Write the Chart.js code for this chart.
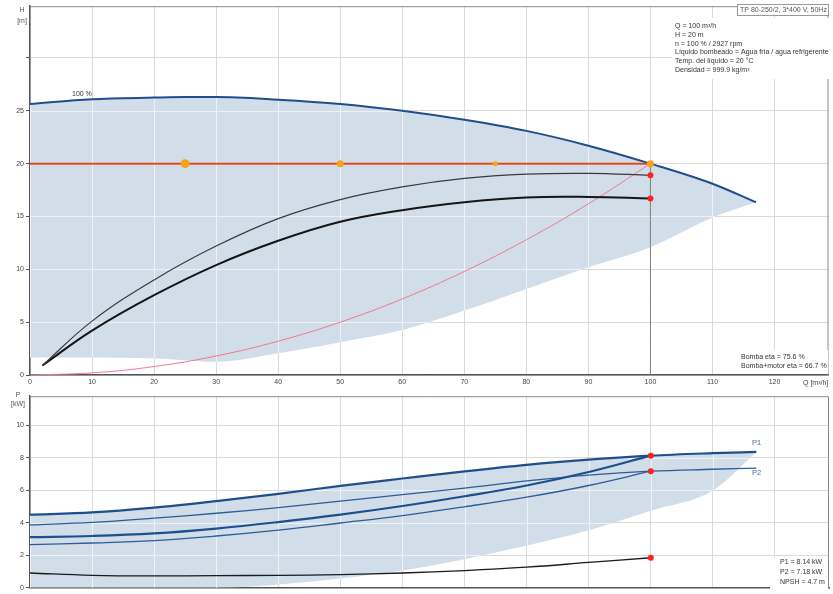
<!DOCTYPE html>
<html><head><meta charset="utf-8">
<script src="https://cdn.jsdelivr.net/npm/chart.js@4/dist/chart.umd.min.js"></script>
<style>
html,body{margin:0;padding:0;background:#fff;}
#wrap{position:relative;width:833px;height:594px;overflow:hidden;background:#fff;}
#top{position:absolute;left:0;top:0;}
#bot{position:absolute;left:0;top:390px;}
</style></head><body>
<div id="wrap"><canvas id="top" width="833" height="392"></canvas><canvas id="bot" width="833" height="204"></canvas></div>
<script>
// ---------- DATA ----------
// top chart: head H [m] vs flow Q [m3/h]
const qEnv  = [0, 10, 20, 25, 30, 40, 50, 60, 70, 80, 90, 100, 110, 117];
const hMax  = [25.65, 26.1, 26.25, 26.3, 26.3, 26.05, 25.65, 25.0, 24.15, 23.1, 21.7, 20.0, 18.1, 16.35];
const hMin  = [1.65, 1.65, 1.55, 1.4, 1.25, 2.05, 3.1, 4.25, 6.1, 8.15, 10.2, 12.1, 14.9, 16.35];
const qPump = [2, 10, 20, 30, 40, 50, 60, 70, 80, 90, 100];
const hThin = [0.9, 5.1, 9.0, 12.2, 14.8, 16.6, 17.8, 18.6, 19.0, 19.08, 18.9];
const hThick= [0.9, 4.2, 7.55, 10.4, 12.7, 14.5, 15.6, 16.35, 16.8, 16.85, 16.7];
const qSys  = [0, 10, 20, 30, 40, 50, 60, 70, 80, 90, 100];
const hSys  = [0, 0.2, 0.8, 1.8, 3.2, 5.0, 7.2, 9.8, 12.8, 16.2, 20.0];
const qSet  = [0, 100];
const hSet  = [20, 20];
const qMarks = [25, 50, 75, 100];
const hMarks = [20, 20, 20, 20];
const qDuty = [100, 100];
const hDuty = [18.9, 16.7];
const xTicks = [0, 10, 20, 30, 40, 50, 60, 70, 80, 90, 100, 110, 120];
const hTicks = [0, 5, 10, 15, 20, 25, 30];
// bottom chart: power P [kW] vs flow Q [m3/h]
const qPow  = [0, 10, 20, 30, 40, 50, 60, 70, 80, 90, 100, 110, 117];
const p1    = [4.5, 4.64, 4.94, 5.34, 5.78, 6.28, 6.73, 7.17, 7.57, 7.89, 8.14, 8.29, 8.37];
const p2    = [3.87, 4.03, 4.29, 4.59, 4.94, 5.34, 5.74, 6.14, 6.58, 6.94, 7.18, 7.3, 7.37];
const pMin  = [0, 0, 0, 0, 0.2, 0.57, 1.06, 1.76, 2.6, 3.55, 4.75, 6.0, 8.37];
const qPart = [0, 10, 20, 30, 40, 50, 60, 70, 80, 90, 100];
const p1b   = [3.12, 3.19, 3.35, 3.65, 4.05, 4.51, 5.04, 5.64, 6.3, 7.13, 8.14];
const p2b   = [2.66, 2.76, 2.91, 3.19, 3.55, 3.99, 4.45, 4.99, 5.58, 6.3, 7.18];
const npsh  = [0.91, 0.77, 0.73, 0.75, 0.77, 0.81, 0.91, 1.06, 1.27, 1.56, 1.85];
const qDutyP = [100, 100, 100];
const pDuty  = [8.14, 7.18, 1.85];
const pTicks = [0, 2, 4, 6, 8, 10];

const infoLines = ['Q = 100 m³/h', 'H = 20 m', 'n = 100 % / 2927 rpm',
  'Líquido bombeado = Agua fría / agua refrigerente', 'Temp. del líquido = 20 °C', 'Densidad = 999.9 kg/m³'];
const etaLines = ['Bomba eta = 75.6 %', 'Bomba+motor eta = 66.7 %'];
const powLines = ['P1 = 8.14 kW', 'P2 = 7.18 kW', 'NPSH = 4.7 m'];

// ---------- helpers ----------
const FONT = '"Liberation Sans", Arial, sans-serif';
Chart.defaults.font.family = FONT;
Chart.defaults.font.size = 7;
Chart.defaults.color = '#444';
function xy(xs, ys) { return xs.map((x, i) => ({ x: x, y: ys[i] })); }
function txt(ctx, s, x, y, size, color, align) {
  ctx.font = size + 'px ' + FONT; ctx.fillStyle = color;
  ctx.textAlign = align || 'left'; ctx.textBaseline = 'middle'; ctx.fillText(s, x, y);
}
const GRID = '#dadada';
const GRID_IN = '#eef2f7';
const SHADE = '#d1dde9';

function curvePath(ctx, up, lo) {
  ctx.beginPath();
  ctx.moveTo(up[0].x, up[0].y);
  for (let i = 1; i < up.length; i++) {
    const a = up[i - 1], b = up[i];
    if (a.cp2x !== undefined && b.cp1x !== undefined) ctx.bezierCurveTo(a.cp2x, a.cp2y, b.cp1x, b.cp1y, b.x, b.y);
    else ctx.lineTo(b.x, b.y);
  }
  const n = lo.length;
  ctx.lineTo(lo[n - 1].x, lo[n - 1].y);
  for (let i = n - 1; i > 0; i--) {
    const a = lo[i], b = lo[i - 1];
    if (a.cp1x !== undefined && b.cp2x !== undefined) ctx.bezierCurveTo(a.cp1x, a.cp1y, b.cp2x, b.cp2y, b.x, b.y);
    else ctx.lineTo(b.x, b.y);
  }
  ctx.closePath();
}
const gridOverFill = {
  id: 'gridOverFill',
  beforeDatasetsDraw(chart, args, opts) {
    const mu = chart.getDatasetMeta(opts.upper), ml = chart.getDatasetMeta(opts.lower);
    const area = chart.chartArea;
    mu.dataset.updateControlPoints(area, 'x');
    ml.dataset.updateControlPoints(area, 'x');
    const ctx = chart.ctx;
    ctx.save();
    curvePath(ctx, mu.data, ml.data);
    ctx.clip();
    ctx.strokeStyle = GRID_IN; ctx.lineWidth = 1;
    const xs = chart.scales.x, ys = chart.scales.y;
    xs.ticks.forEach(t => { const p = Math.round(xs.getPixelForValue(t.value)) + 0.5;
      ctx.beginPath(); ctx.moveTo(p, area.top); ctx.lineTo(p, area.bottom); ctx.stroke(); });
    ys.ticks.forEach(t => { const p = Math.round(ys.getPixelForValue(t.value)) + 0.5;
      ctx.beginPath(); ctx.moveTo(area.left, p); ctx.lineTo(area.right, p); ctx.stroke(); });
    ctx.restore();
  }
};
const frame = {
  id: 'frame',
  afterDraw(chart, args, opts) {
    const a = chart.chartArea, ctx = chart.ctx;
    ctx.save();
    ctx.strokeStyle = '#8a8a8a'; ctx.lineWidth = 1;
    ctx.beginPath();
    ctx.moveTo(a.left, a.top + 0.5); ctx.lineTo(a.right - 0.5, a.top + 0.5); ctx.lineTo(a.right - 0.5, a.bottom);
    ctx.stroke();
    if (opts.draw) opts.draw(ctx, chart);
    ctx.restore();
  }
};
function lineDs(data, color, width, extra) {
  return Object.assign({ data: data, borderColor: color, borderWidth: width, pointRadius: 0,
    fill: false, tension: 0.4 }, extra || {});
}
function envDs(data, color, width, extra) {
  return Object.assign({ data: data, borderColor: color, borderWidth: width, pointRadius: 0,
    fill: false, cubicInterpolationMode: 'monotone' }, extra || {});
}
function scalesFor(yMax, yTicks, xHeight, showX, yLabel) {
  return {
    x: { type: 'linear', min: 0, max: 128.7,
      afterBuildTicks: s => { s.ticks = xTicks.map(v => ({ value: v })); },
      afterFit: s => { s.height = xHeight; },
      grid: { color: GRID, drawTicks: false },
      border: { color: '#555', width: 1.5 },
      ticks: { display: showX, padding: 3, color: '#444', maxRotation: 0, autoSkip: false, font: { size: 7 } } },
    y: { type: 'linear', min: 0, max: yMax,
      afterBuildTicks: s => { s.ticks = yTicks.map(v => ({ value: v })); },
      afterFit: s => { s.width = 30; },
      grid: { color: GRID, tickColor: '#555', tickLength: 4 },
      border: { color: '#555', width: 1.5 },
      ticks: { padding: 2, color: '#444', font: { size: 7 }, callback: yLabel } }
  };
}

// ---------- top chart ----------
new Chart(document.getElementById('top'), {
  type: 'line',
  data: { datasets: [
    lineDs(xy(qMarks, hMarks), '#f5a31a', 0, { showLine: false, pointRadius: [4.5, 3.5, 2.5, 3.5],
      pointBackgroundColor: '#f7a21b', pointBorderWidth: 0 }),
    lineDs(xy(qDuty, hDuty), '#ff2020', 0, { showLine: false, pointRadius: 3,
      pointBackgroundColor: '#ff2020', pointBorderWidth: 0 }),
    lineDs(xy(qSet, hSet), '#e2481e', 2),
    lineDs(xy(qPump, hThin), '#3a3a3a', 1.2),
    lineDs(xy(qPump, hThick), '#151515', 2),
    lineDs(xy(qSys, hSys), '#f0788a', 1),
    lineDs(xy([100, 100], [20, 0]), '#7d7d7d', 1),
    envDs(xy(qEnv, hMax), '#1f4e8a', 2, { fill: '+1', backgroundColor: SHADE }),
    envDs(xy(qEnv, hMin), 'rgba(0,0,0,0)', 0)
  ] },
  options: {
    responsive: false, animation: false, events: [],
    layout: { padding: { top: 5, right: 4, left: 0, bottom: 0 } },
    scales: scalesFor(34.9, hTicks, 17, true, v => (v === 30 ? '' : v)),
    plugins: { legend: { display: false }, tooltip: { enabled: false },
      filler: { drawTime: 'beforeDatasetsDraw' },
      gridOverFill: { upper: 7, lower: 8 },
      frame: { draw: (ctx) => {
        txt(ctx, 'H', 22, 10, 7, '#555', 'center');
        txt(ctx, '[m]', 22, 21, 7, '#555', 'center');
        txt(ctx, '100 %', 72, 94, 7, '#333');
        ctx.fillStyle = '#fff'; ctx.fillRect(672, 18, 157, 61);
        infoLines.forEach((s, i) => txt(ctx, s, 675, 26 + i * 8.8, 7, '#333'));
        ctx.fillStyle = '#fff'; ctx.fillRect(737, 4, 92, 12);
        ctx.strokeStyle = '#999'; ctx.lineWidth = 1; ctx.strokeRect(737.5, 4.5, 91, 11);
        txt(ctx, 'TP 80-250/2, 3*400 V, 50Hz', 740, 10.5, 7, '#555');
        ctx.fillStyle = '#fff'; ctx.fillRect(735, 350, 93, 24);
        etaLines.forEach((s, i) => txt(ctx, s, 741, 357 + i * 9.5, 7, '#333'));
        txt(ctx, 'Q [m³/h]', 803, 383, 7, '#444');
      } }
    }
  },
  plugins: [gridOverFill, frame]
});

// ---------- bottom chart ----------
new Chart(document.getElementById('bot'), {
  type: 'line',
  data: { datasets: [
    lineDs(xy(qDutyP, pDuty), '#ff2020', 0, { showLine: false, pointRadius: 3,
      pointBackgroundColor: '#ff2020', pointBorderWidth: 0 }),
    lineDs(xy(qPart, npsh), '#1a1a1a', 1.3),
    lineDs(xy(qPart, p1b), '#1c4f8c', 2.2),
    lineDs(xy(qPart, p2b), '#2d5d95', 1.3),
    lineDs(xy(qPow, p2), '#2d5d95', 1.3),
    envDs(xy(qPow, p1), '#1c4f8c', 2.2, { fill: '+1', backgroundColor: SHADE }),
    envDs(xy(qPow, pMin), 'rgba(0,0,0,0)', 0)
  ] },
  options: {
    responsive: false, animation: false, events: [],
    layout: { padding: { top: 2, right: 4, left: 0, bottom: 0 } },
    scales: scalesFor(11.8, pTicks, 5, false, v => v),
    plugins: { legend: { display: false }, tooltip: { enabled: false },
      filler: { drawTime: 'beforeDatasetsDraw' },
      gridOverFill: { upper: 5, lower: 6 },
      frame: { draw: (ctx) => {
        txt(ctx, 'P', 18, 5, 7, '#555', 'center');
        txt(ctx, '[kW]', 18, 14, 7, '#555', 'center');
        txt(ctx, 'P1', 752, 53, 7.5, '#4d6b8f');
        txt(ctx, 'P2', 752, 83, 7.5, '#4d6b8f');
        ctx.fillStyle = '#fff'; ctx.fillRect(770, 168, 58, 31);
        powLines.forEach((s, i) => txt(ctx, s, 780, 171.7 + i * 10.3, 7, '#333'));
      } }
    }
  },
  plugins: [gridOverFill, frame]
});
</script>
</body></html>
